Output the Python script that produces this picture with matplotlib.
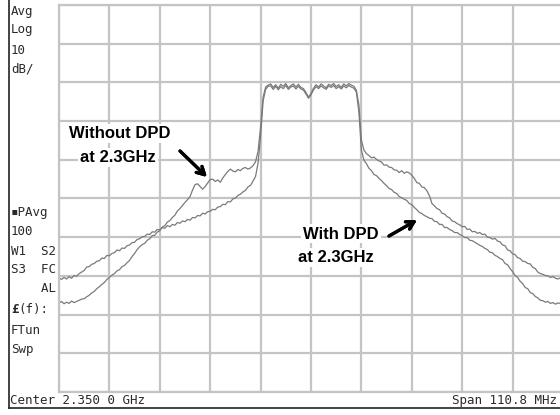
import numpy as np
import matplotlib
matplotlib.use("Agg")
import matplotlib.pyplot as plt
from matplotlib.lines import Line2D

# ---------------- data ----------------
center_ghz = 2.350
span_mhz = 110.8
ref_db = 0.0
db_per_div = 10

# sweep points (offset from centre, MHz)
freq_mhz = np.linspace(-span_mhz / 2, span_mhz / 2, 201)

without_dpd = [
    -77.0, -76.6, -77.2, -76.8, -77.1, -76.5, -76.9, -76.6, -76.3, -76.0,
    -75.9, -75.4, -75.0, -74.4, -74.0, -73.3, -72.8, -72.2, -71.7, -70.9,
    -70.4, -69.8, -69.4, -68.7, -68.4, -67.6, -67.3, -66.6, -66.0, -65.0,
    -64.2, -63.2, -62.5, -61.9, -61.6, -60.8, -60.4, -59.6, -59.5, -58.7,
    -58.3, -57.4, -57.0, -56.1, -55.7, -54.9, -54.3, -53.2, -52.6, -51.8,
    -51.0, -50.3, -49.5, -47.8, -46.4, -46.2, -46.9, -47.6, -46.9, -46.0,
    -45.1, -45.0, -45.6, -45.2, -45.8, -44.7, -43.8, -43.0, -42.4, -42.9,
    -43.1, -42.5, -42.8, -42.2, -42.0, -42.4, -42.1, -41.5, -40.5, -37.8,
    -31.5, -23.8, -21.2, -20.7,
    -20.4, -21.3, -20.6, -21.5, -20.5, -21.0, -20.3, -21.4, -20.8, -20.4,
    -21.2, -20.5, -21.3, -21.6, -22.6, -23.8, -22.9, -21.5, -20.6, -21.2,
    -20.4, -20.9, -21.4, -20.5, -20.8, -20.3, -21.1, -20.6, -21.3, -20.4,
    -20.9, -20.3, -20.7, -21.0,
    -22.0, -25.8, -34.9, -37.5, -38.4, -38.9, -39.5, -39.3, -39.9, -40.3,
    -40.6, -41.4, -41.3, -41.9, -42.0, -42.6, -42.7, -43.3, -42.8, -43.5,
    -43.1, -43.4, -44.0, -44.8, -45.9, -46.1, -47.0, -47.2, -48.0, -49.3,
    -51.3, -51.9, -52.6, -52.9, -53.8, -54.0, -54.7, -55.0, -55.8, -56.0,
    -56.5, -56.8, -57.3, -57.2, -58.0, -57.9, -58.6, -58.5, -59.0, -58.8,
    -59.3, -59.2, -60.0, -60.1, -60.5, -60.3, -61.0, -61.2, -62.0, -62.2,
    -63.3, -63.5, -64.3, -64.5, -65.3, -65.5, -66.2, -66.3, -66.8, -66.9,
    -67.8, -68.1, -69.0, -69.4, -69.6, -69.9, -70.0, -70.4, -70.2, -70.6,
    -70.8, -70.5, -70.8,
]

with_dpd = [
    -70.5, -70.9, -70.4, -70.8, -70.2, -70.6, -69.9, -70.1, -69.4, -69.0,
    -68.6, -67.7, -67.6, -67.0, -66.8, -66.2, -66.1, -65.4, -65.5, -64.7,
    -64.8, -64.2, -64.0, -63.3, -63.5, -62.8, -62.9, -62.2, -62.0, -61.4,
    -61.3, -60.6, -60.4, -59.9, -59.8, -59.2, -59.3, -58.6, -58.7, -58.0,
    -58.1, -57.5, -57.7, -57.0, -57.3, -56.7, -56.9, -56.2, -56.4, -55.8,
    -56.0, -55.4, -55.6, -54.9, -55.0, -54.4, -54.5, -53.8, -54.0, -53.4,
    -53.3, -52.8, -52.9, -52.2, -52.1, -51.5, -51.6, -50.8, -50.9, -50.1,
    -49.9, -49.2, -48.9, -48.3, -47.9, -47.0, -46.6, -45.5, -44.3, -40.8,
    -33.8, -24.8, -21.8, -21.0,
    -20.9, -21.8, -21.0, -21.9, -21.1, -21.6, -20.8, -21.8, -21.2, -20.9,
    -21.7, -21.0, -21.7, -22.0, -23.0, -24.1, -23.2, -21.9, -21.1, -21.6,
    -20.9, -21.4, -21.8, -20.9, -21.3, -20.8, -21.6, -21.1, -21.7, -20.9,
    -21.4, -20.8, -21.2, -21.5,
    -22.5, -27.6, -37.5, -40.1, -41.0, -42.2, -42.8, -43.8, -44.1, -44.8,
    -45.4, -46.1, -46.7, -47.4, -47.7, -48.4, -48.7, -49.5, -49.8, -50.2,
    -50.5, -51.3, -51.6, -52.3, -52.9, -53.6, -53.9, -54.4, -54.7, -55.1,
    -55.2, -55.9, -56.0, -56.7, -56.7, -57.5, -57.5, -58.0, -58.3, -58.8,
    -58.8, -59.3, -59.6, -60.1, -60.1, -60.8, -60.9, -61.3, -61.7, -62.1,
    -62.4, -62.9, -63.2, -63.9, -64.0, -64.7, -65.0, -65.5, -65.8, -66.8,
    -67.1, -68.1, -68.9, -69.9, -70.4, -71.4, -72.0, -73.0, -73.3, -74.3,
    -74.6, -75.3, -75.7, -76.3, -76.4, -76.8, -76.6, -77.1, -76.9, -77.3,
    -77.0, -77.1, -76.9,
]

left_labels_top = ["Avg", "Log", "10", "dB/"]
left_labels_bottom = ["\u25aaPAvg", "100", "W1  S2", "S3  FC", "    AL"]
left_labels_tail = ["FTun", "Swp"]
footer_left = "Center 2.350 0 GHz"
footer_right = "Span 110.8 MHz"
note_without = ["Without DPD", "at 2.3GHz"]
note_with = ["With DPD", "at 2.3GHz"]

# ---------------- figure ----------------
W, H = 560, 415
fig = plt.figure(figsize=(W / 100, H / 100), dpi=100)
fig.patch.set_facecolor("white")


def fx(px):
    return px / W


def fy(py):
    return 1 - py / H


ax = fig.add_axes([fx(59), fy(392), 504 / W, 387 / H])
ax.set_xlim(-span_mhz / 2, span_mhz / 2)
ax.set_ylim(ref_db - 10 * db_per_div, ref_db)
grid_c = "#c4c4c4"
ax.set_xticks(np.linspace(-span_mhz / 2, span_mhz / 2, 11))
ax.set_yticks(np.arange(ref_db - 10 * db_per_div, ref_db + 1, db_per_div))
ax.grid(True, color=grid_c, lw=1.6)
ax.tick_params(length=0, labelbottom=False, labelleft=False)
for s in ax.spines.values():
    s.set_color(grid_c)
    s.set_linewidth(1.6)
ax.set_axisbelow(True)

trace_c = "#7a7a7a"
ax.plot(freq_mhz, without_dpd, color=trace_c, lw=0.9)
ax.plot(freq_mhz, with_dpd, color=trace_c, lw=0.9)

# screen frame lines
fig.add_artist(Line2D([fx(9), fx(9)], [fy(408), 1.0], color="#222222", lw=1.2))
fig.add_artist(Line2D([fx(9), 1.0], [fy(408), fy(408)], color="#222222", lw=1.2))

mono = dict(family="DejaVu Sans Mono", fontsize=9, color="#2a2a2a", va="center", ha="left")
for lab, y in zip(left_labels_top, [11, 30, 50, 69]):
    fig.text(fx(11), fy(y), lab, **mono)
for lab, y in zip(left_labels_bottom, [212, 231, 251, 269, 289]):
    fig.text(fx(11), fy(y), lab, **mono)
fig.text(fx(11), fy(309), "\u00a3", **{**mono, "fontweight": "bold"})
fig.text(fx(18.5), fy(309), "(f):", **mono)
for lab, y in zip(left_labels_tail, [330, 349]):
    fig.text(fx(11), fy(y), lab, **mono)

fig.text(fx(10), fy(400), footer_left, **mono)
fig.text(fx(557), fy(400), footer_right, **{**mono, "ha": "right"})

# annotations
note = dict(family="Liberation Sans", fontsize=12, fontweight="bold", color="black",
            ha="center", va="center",
            bbox=dict(facecolor="white", edgecolor="none", pad=1.5))
fig.text(fx(119.5), fy(134), note_without[0], **note)
fig.text(fx(118), fy(157.5), note_without[1], **note)
fig.text(fx(341), fy(234), note_with[0], **note)
fig.text(fx(336), fy(257.5), note_with[1], **note)

arrow = dict(arrowstyle="->,head_length=0.55,head_width=0.3", lw=2.3, color="black",
             shrinkA=0, shrinkB=0)
fig.add_artist(plt.annotate("", xy=(fx(207), fy(177)), xytext=(fx(180), fy(151)),
                            xycoords="figure fraction", textcoords="figure fraction",
                            arrowprops=arrow))
fig.add_artist(plt.annotate("", xy=(fx(417), fy(220)), xytext=(fx(389), fy(236)),
                            xycoords="figure fraction", textcoords="figure fraction",
                            arrowprops=arrow))

fig.savefig("out.png", dpi=100, facecolor="white")
